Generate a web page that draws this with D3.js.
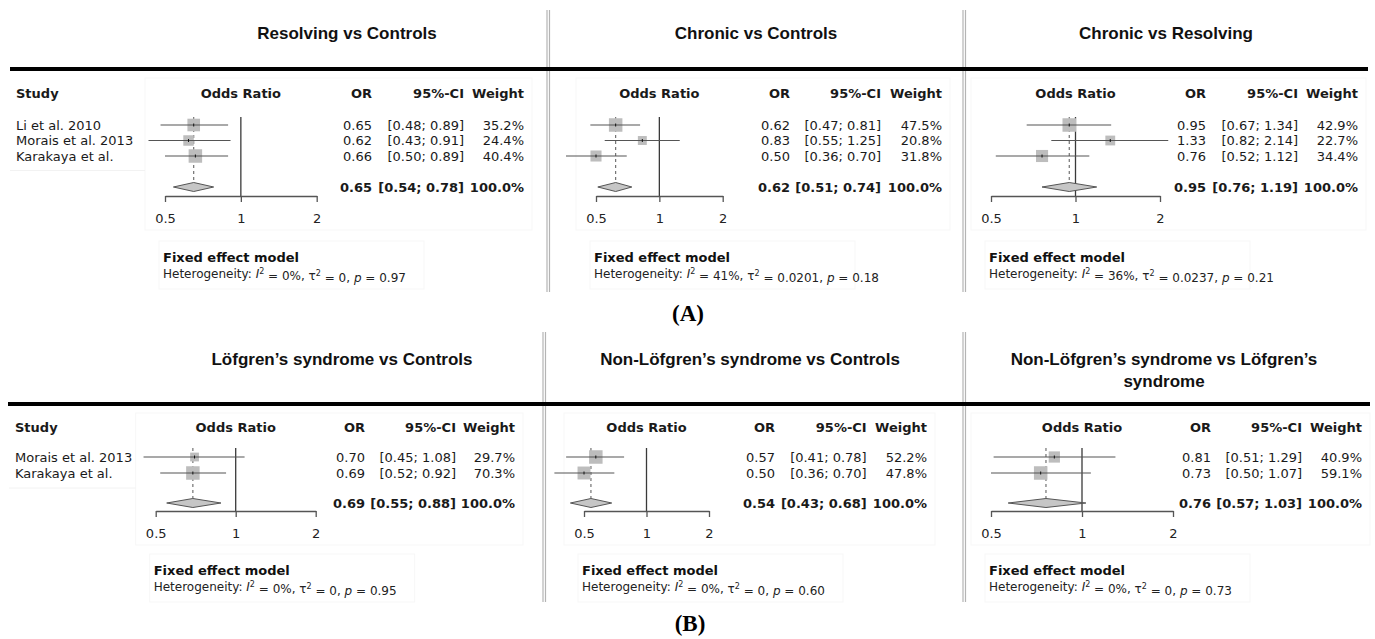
<!DOCTYPE html>
<html lang="en">
<head>
  <meta charset="utf-8">
  <script src="https://d3js.org/d3.v7.min.js"></script>
  <style>
    body { margin: 0; background: #fff; }
  </style>
</head>
<body>
  <div id="my_dataviz"></div>
  <script>

    // ---- data ----
    const panelTitles = ["Resolving vs Controls", "Chronic vs Controls", "Chronic vs Resolving",
      "Löfgren’s syndrome vs Controls", "Non-Löfgren’s syndrome vs Controls",
      "Non-Löfgren’s syndrome vs Löfgren’s syndrome"];
    const studiesA = ["Li et al. 2010", "Morais et al. 2013", "Karakaya et al."];
    const studiesB = ["Morais et al. 2013", "Karakaya et al."];
    const orEst  = [[0.65, 0.62, 0.66], [0.62, 0.83, 0.50], [0.95, 1.33, 0.76], [0.70, 0.69], [0.57, 0.50], [0.81, 0.73]];
    const ciLow  = [[0.48, 0.43, 0.50], [0.47, 0.55, 0.36], [0.67, 0.82, 0.52], [0.45, 0.52], [0.41, 0.36], [0.51, 0.50]];
    const ciHigh = [[0.89, 0.91, 0.89], [0.81, 1.25, 0.70], [1.34, 2.14, 1.12], [1.08, 0.92], [0.78, 0.70], [1.29, 1.07]];
    const weights = [[35.2, 24.4, 40.4], [47.5, 20.8, 31.8], [42.9, 22.7, 34.4], [29.7, 70.3], [52.2, 47.8], [40.9, 59.1]];
    const pooledOR   = [0.65, 0.62, 0.95, 0.69, 0.54, 0.76];
    const pooledLow  = [0.54, 0.51, 0.76, 0.55, 0.43, 0.57];
    const pooledHigh = [0.78, 0.74, 1.19, 0.88, 0.68, 1.03];
    const i2Values   = ["0%", "41%", "36%", "0%", "0%", "0%"];
    const tau2Values = ["0", "0.0201", "0.0237", "0", "0", "0"];
    const pValues    = ["0.97", "0.18", "0.21", "0.95", "0.60", "0.73"];
    const axisTicks = [0.5, 1, 2];

    // ---- layout ----
    const width = 1375, height = 639;
    const panels = [
      {x05: 165, x2: 316.7, orR: 372, ciR: 464, wR: 524, cx: 347, studyX: 16, row: 0},
      {x05: 596, x2: 722.7, orR: 790, ciR: 881, wR: 942, cx: 756, row: 0},
      {x05: 991, x2: 1160, orR: 1206, ciR: 1298, wR: 1358, cx: 1166, row: 0},
      {x05: 155.7, x2: 315.7, orR: 365, ciR: 456, wR: 515, cx: 342, studyX: 15, row: 1},
      {x05: 584, x2: 709, orR: 775, ciR: 866.7, wR: 927, cx: 750, row: 1},
      {x05: 991, x2: 1173, orR: 1211, ciR: 1302, wR: 1362, cx: 1164, row: 1}
    ];
    const rows = [
      {titleY: 33.5, ruleY: 69, ruleX0: 10, ruleX1: 1368, headY: 93, row0: 125, rowStep: 15.5, sumY: 187,
       axisY: 196, nullTop: 117, fixedY: 257, hetY: 274, seps: [547, 963], sepTop: 10, sepBot: 292,
       label: "(A)", labelX: 688, labelY: 313, studies: studiesA},
      {titleY: 359.5, ruleY: 404, ruleX0: 8, ruleX1: 1370, headY: 427, row0: 457, rowStep: 16, sumY: 503,
       axisY: 511, nullTop: 448, fixedY: 570, hetY: 587, seps: [543, 963], sepTop: 332, sepBot: 602,
       label: "(B)", labelX: 690, labelY: 623, studies: studiesB}
    ];

    const tableFont = "'DejaVu Sans', sans-serif";
    const titleFont = "'Liberation Sans', Arial, sans-serif";

    const svg = d3.select("#my_dataviz")
      .append("svg")
        .attr("width", width)
        .attr("height", height);

    svg.append("rect").attr("width", width).attr("height", height).attr("fill", "#fff");

    // row-level decorations: thick rule, separators, (A)/(B)
    rows.forEach(r => {
      r.seps.forEach(sx => {
        [0, 2.5].forEach(off => {
          svg.append("line")
            .attr("x1", sx + off).attr("x2", sx + off)
            .attr("y1", r.sepTop).attr("y2", r.sepBot)
            .attr("stroke", "#b4b4b4").attr("stroke-width", 1.2);
        });
      });
      svg.append("line")
        .attr("x1", r.ruleX0).attr("x2", r.ruleX1)
        .attr("y1", r.ruleY).attr("y2", r.ruleY)
        .attr("stroke", "#000").attr("stroke-width", 4);
      svg.append("text")
        .attr("x", r.labelX).attr("y", r.labelY)
        .attr("dy", "0.35em")
        .attr("text-anchor", "middle")
        .style("font-family", "'Liberation Serif', 'Times New Roman', serif")
        .style("font-weight", "bold")
        .style("font-size", "23px")
        .text(r.label);
    });

    // simple word wrap for long titles
    function wrapTitle(textSel, maxWidth) {
      const words = textSel.text().split(" ");
      textSel.text(null);
      let lines = [[]];
      const probe = textSel.append("tspan");
      words.forEach(w => {
        const cur = lines[lines.length - 1];
        probe.text(cur.concat([w]).join(" "));
        if (cur.length && probe.node().getComputedTextLength() > maxWidth) lines.push([w]);
        else cur.push(w);
      });
      probe.remove();
      return lines.map(l => l.join(" "));
    }

    panels.forEach((p, i) => {
      const r = rows[p.row];
      const g = svg.append("g");
      const x = d3.scaleLog().domain([0.5, 2]).range([p.x05, p.x2]);
      const maxW = d3.max(weights[i]);
      const side = d3.scaleSqrt().domain([0, maxW]).range([0, 13.5]);
      const rowY = j => r.row0 + j * r.rowStep;

      // faint frames
      g.append("rect")
        .attr("x", p.x05 - 20).attr("y", r.ruleY + 9)
        .attr("width", p.wR + 8 - (p.x05 - 20)).attr("height", r.axisY + 34 - (r.ruleY + 9))
        .attr("fill", "none").attr("stroke", "#f7f7f7");
      g.append("rect")
        .attr("x", p.x05 - 6).attr("y", r.fixedY - 16)
        .attr("width", 265).attr("height", 48)
        .attr("fill", "none").attr("stroke", "#f7f7f7");

      // title
      const t = g.append("text")
        .attr("text-anchor", "middle")
        .style("font-family", titleFont)
        .style("font-weight", "bold")
        .style("font-size", "17px")
        .attr("fill", "#111")
        .text(panelTitles[i]);
      const lines = wrapTitle(t, 370);
      lines.forEach((l, k) => {
        t.append("tspan").attr("x", p.cx).attr("y", r.titleY + k * 21.4).attr("dy", "0.35em").text(l);
      });

      // header
      const head = (txt, xx, anchor) => g.append("text")
        .attr("x", xx).attr("y", r.headY).attr("dy", "0.35em")
        .attr("text-anchor", anchor)
        .style("font-family", tableFont).style("font-weight", "bold").style("font-size", "13px")
        .attr("fill", "#1a1a1a").text(txt);
      if (p.studyX !== undefined) head("Study", p.studyX, "start");
      head("Odds Ratio", x(1), "middle");
      head("OR", p.orR, "end");
      head("95%-CI", p.ciR, "end");
      head("Weight", p.wR, "end");

      // table values
      const cell = (txt, xx, yy, anchor, bold) => g.append("text")
        .attr("x", xx).attr("y", yy).attr("dy", "0.35em")
        .attr("text-anchor", anchor)
        .style("font-family", tableFont).style("font-weight", bold ? "bold" : "normal").style("font-size", "13px")
        .attr("fill", "#1a1a1a").text(txt);
      const f2 = d3.format(".2f"), f1 = d3.format(".1f");
      r.studies.forEach((s, j) => {
        if (p.studyX !== undefined) cell(s, p.studyX, rowY(j), "start", false);
        cell(f2(orEst[i][j]), p.orR, rowY(j), "end", false);
        cell(`[${f2(ciLow[i][j])}; ${f2(ciHigh[i][j])}]`, p.ciR, rowY(j), "end", false);
        cell(f1(weights[i][j]) + "%", p.wR, rowY(j), "end", false);
      });
      cell(f2(pooledOR[i]), p.orR, r.sumY, "end", true);
      cell(`[${f2(pooledLow[i])}; ${f2(pooledHigh[i])}]`, p.ciR, r.sumY, "end", true);
      cell("100.0%", p.wR, r.sumY, "end", true);

      // null line and pooled dashed line
      g.append("line")
        .attr("x1", x(1)).attr("x2", x(1))
        .attr("y1", r.nullTop).attr("y2", r.axisY)
        .attr("stroke", "#3a3a3a").attr("stroke-width", 1.3);
      g.append("line")
        .attr("x1", x(pooledOR[i])).attr("x2", x(pooledOR[i]))
        .attr("y1", r.nullTop).attr("y2", r.sumY - 4.5)
        .attr("stroke", "#666").attr("stroke-width", 1.1)
        .attr("stroke-dasharray", "3,3");

      // study squares and CIs
      r.studies.forEach((s, j) => {
        const sz = side(weights[i][j]);
        g.append("rect")
          .attr("x", x(orEst[i][j]) - sz / 2).attr("y", rowY(j) - sz / 2)
          .attr("width", sz).attr("height", sz)
          .attr("fill", "#bdbdbd");
        g.append("line")
          .attr("x1", x(ciLow[i][j])).attr("x2", x(ciHigh[i][j]))
          .attr("y1", rowY(j)).attr("y2", rowY(j))
          .attr("stroke", "#555").attr("stroke-width", 1.2);
        g.append("line")
          .attr("x1", x(orEst[i][j])).attr("x2", x(orEst[i][j]))
          .attr("y1", rowY(j) - 1.5).attr("y2", rowY(j) + 1.5)
          .attr("stroke", "#111").attr("stroke-width", 1);
      });

      // pooled diamond
      const dy = 4.5;
      g.append("path")
        .attr("d", `M${x(pooledLow[i])},${r.sumY} L${x(pooledOR[i])},${r.sumY - dy} L${x(pooledHigh[i])},${r.sumY} L${x(pooledOR[i])},${r.sumY + dy} Z`)
        .attr("fill", "#c6c6c6").attr("stroke", "#555").attr("stroke-width", 1);

      // axis
      const ax = g.append("g")
        .attr("transform", `translate(0,${r.axisY})`)
        .call(d3.axisBottom(x).tickValues(axisTicks).tickFormat(d => String(d))
          .tickSize(6).tickSizeOuter(0).tickPadding(12));
      ax.selectAll("path, line").attr("stroke", "#555").attr("stroke-width", 1.3);
      ax.selectAll("text")
        .style("font-family", tableFont).style("font-size", "13px").attr("fill", "#222");

      // model text
      g.append("text")
        .attr("x", p.x05 - 2).attr("y", r.fixedY).attr("dy", "0.35em")
        .style("font-family", tableFont).style("font-weight", "bold").style("font-size", "13px")
        .attr("fill", "#111").text("Fixed effect model");
      const het = g.append("text")
        .attr("x", p.x05 - 2).attr("y", r.hetY).attr("dy", "0.35em")
        .style("font-family", tableFont).style("font-size", "12px")
        .attr("fill", "#222");
      het.append("tspan").text("Heterogeneity: ");
      het.append("tspan").style("font-style", "italic").text("I");
      het.append("tspan").attr("dy", "-0.5em").style("font-size", "8px").text("2");
      het.append("tspan").attr("dy", "0.5em").text(` = ${i2Values[i]}, τ`);
      het.append("tspan").attr("dy", "-0.5em").style("font-size", "8px").text("2");
      het.append("tspan").attr("dy", "0.5em").text(` = ${tau2Values[i]}, `);
      het.append("tspan").style("font-style", "italic").text("p");
      het.append("tspan").text(` = ${pValues[i]}`);

      // faint line under study names
      if (p.studyX !== undefined) {
        g.append("path")
          .attr("d", `M${p.studyX - 6},${r.row0 + r.rowStep * r.studies.length - 1} H${p.x05 - 20}`)
          .attr("stroke", "#f2f2f2").attr("fill", "none");
      }
    });
  </script>
</body>
</html>
